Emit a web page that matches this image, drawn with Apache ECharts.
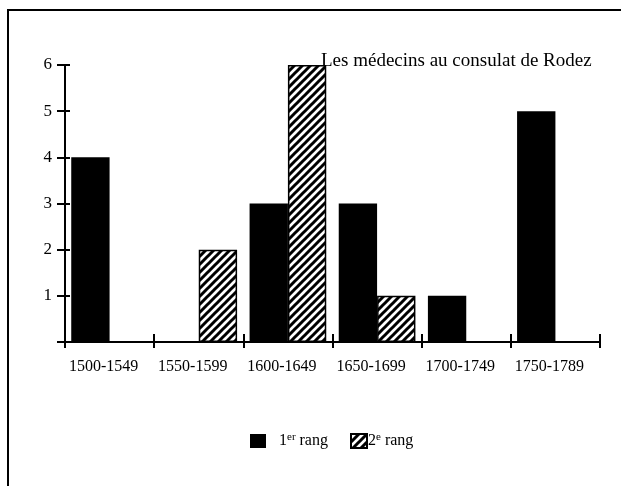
<!DOCTYPE html>
<html>
<head>
<meta charset="utf-8">
<script src="https://cdn.jsdelivr.net/npm/echarts@6/dist/echarts.min.js"></script>
<style>
    html, body { margin: 0; padding: 0; background: #fff; }
    #chart_con { width: 621px; height: 486px; }
</style>
</head>
<body>
<div id="chart_con"></div>
<script>
const periodes = ['1500-1549', '1550-1599', '1600-1649', '1650-1699', '1700-1749', '1750-1789'];
const premierRang = [4, 0, 3, 3, 1, 5];
const secondRang = [0, 2, 6, 1, 0, 0];
const yTicks = [0, 1, 2, 3, 4, 5, 6];

const serif = '"Liberation Serif", "Times New Roman", serif';

// motif hachuré pour le 2e rang
function hachures () {
    let c = document.createElement('canvas');
    c.width = 8;
    c.height = 8;
    let ctx = c.getContext('2d');
    ctx.fillStyle = '#fff';
    ctx.fillRect(0, 0, 8, 8);
    ctx.strokeStyle = '#000';
    ctx.lineWidth = 3;
    ctx.beginPath();
    ctx.moveTo(-4, 4); ctx.lineTo(4, -4);
    ctx.moveTo(0, 8); ctx.lineTo(8, 0);
    ctx.moveTo(4, 12); ctx.lineTo(12, 4);
    ctx.stroke();
    return c;
}

let chart = echarts.init(document.getElementById('chart_con'));
const motif = {image: hachures(), repeat: 'repeat'};

const legendRich = {
    sup: {fontSize: 11, fontFamily: serif, color: '#000', verticalAlign: 'top', padding: [0, 0, 7, 0]},
    txt: {fontSize: 16, fontFamily: serif, color: '#000'}
};
function legendLabel (name) {
    if (name === '1er rang') return '{txt|1}{sup|er}{txt| rang}';
    return '{txt|2}{sup|e}{txt| rang}';
}

const option = {
    animation: false,
    backgroundColor: '#fff',
    textStyle: {fontFamily: serif, color: '#000'},
    title: {
        text: 'Les médecins au consulat de Rodez',
        left: 316,
        top: 47,
        textStyle: {fontFamily: serif, fontWeight: 'normal', fontSize: 19, color: '#000'}
    },
    graphic: [{
        type: 'rect',
        shape: {x: 8, y: 10, width: 700, height: 600},
        style: {fill: 'none', stroke: '#000', lineWidth: 2}
    }],
    legend: [{
        data: ['1er rang'],
        left: 245,
        top: 427,
        itemWidth: 16,
        itemHeight: 14,
        icon: 'rect',
        formatter: legendLabel,
        textStyle: {rich: legendRich, padding: [0, 0, 0, 8]}
    }, {
        data: ['2e rang'],
        left: 345,
        top: 427,
        itemWidth: 16,
        itemHeight: 14,
        itemGap: 0,
        icon: 'rect',
        formatter: legendLabel,
        textStyle: {rich: legendRich, padding: [0, 0, 0, -4]}
    }],
    grid: {
        left: 65,
        right: 21,
        top: 65,
        bottom: 144
    },
    xAxis: [{
        type: 'category',
        data: periodes,
        axisLine: {lineStyle: {color: '#000', width: 2}},
        axisTick: {show: true, length: 6, lineStyle: {color: '#000', width: 2}},
        axisLabel: {
            color: '#000', fontFamily: serif, fontSize: 16, margin: 17,
            interval: 0, hideOverlap: false, padding: [0, 12, 0, 0]
        }
    }, {
        type: 'category',
        data: periodes,
        position: 'bottom',
        axisLine: {show: false},
        axisTick: {show: true, inside: true, length: 8, lineStyle: {color: '#000', width: 2}},
        axisLabel: {show: false}
    }],
    yAxis: [{
        type: 'value',
        min: yTicks[0],
        max: yTicks[yTicks.length - 1],
        interval: 1,
        splitLine: {show: false},
        axisLine: {show: true, lineStyle: {color: '#000', width: 2}},
        axisTick: {show: true, length: 8, lineStyle: {color: '#000', width: 2}},
        axisLabel: {
            color: '#000', fontFamily: serif, fontSize: 17, margin: 13,
            formatter: function (v) { return v === 0 ? '' : v; }
        }
    }, {
        type: 'value',
        position: 'left',
        min: yTicks[0],
        max: yTicks[yTicks.length - 1],
        interval: 1,
        splitLine: {show: false},
        axisLine: {show: false},
        axisTick: {show: true, inside: true, length: 5, lineStyle: {color: '#000', width: 2}},
        axisLabel: {show: false}
    }],
    series: [{
        name: '1er rang',
        type: 'bar',
        data: premierRang,
        barGap: 0,
        barCategoryGap: '14%',
        itemStyle: {color: '#000'}
    }, {
        name: '2e rang',
        type: 'bar',
        data: secondRang,
        barGap: 0,
        barCategoryGap: '14%',
        itemStyle: {color: motif, borderColor: '#000', borderWidth: 1.5}
    }]
};

chart.setOption(option);

window.addEventListener('resize', function () {
    chart.resize();
});
</script>
</body>
</html>
